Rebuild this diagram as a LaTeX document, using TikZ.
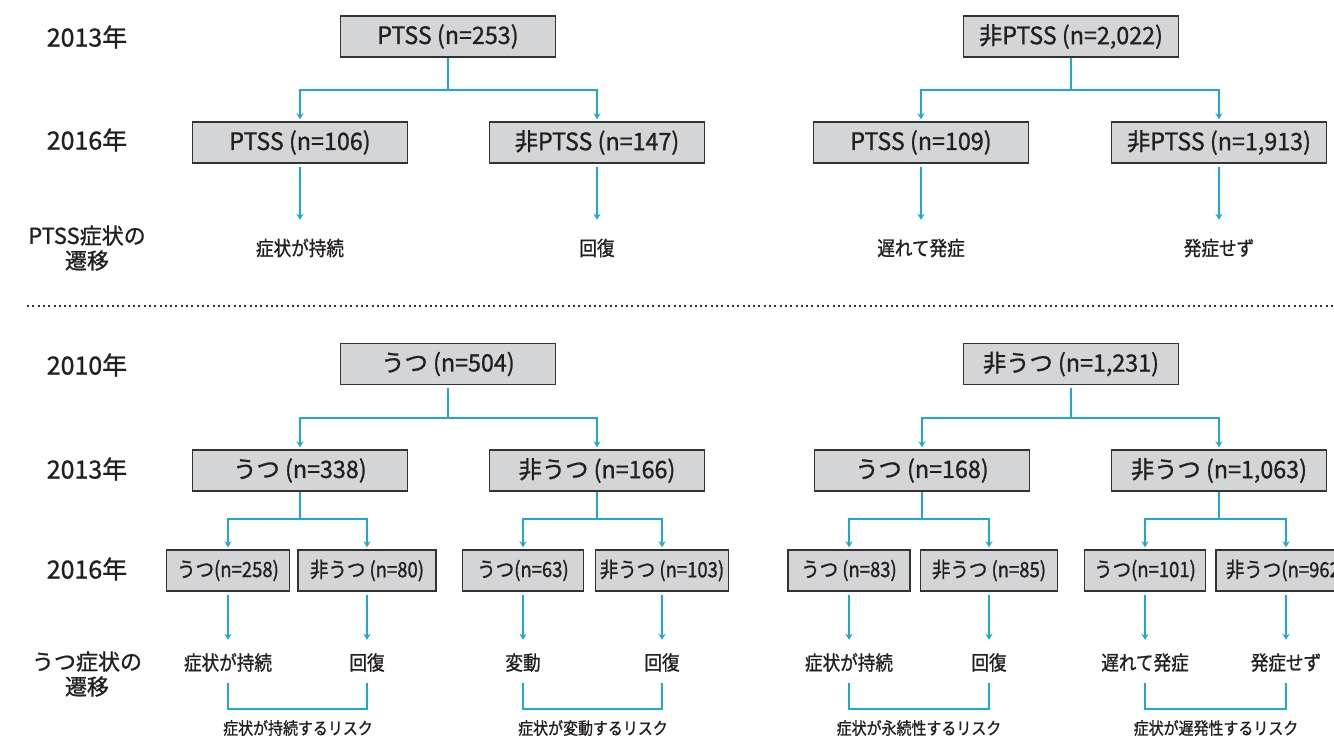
\documentclass[tikz,border=0pt]{standalone}
\usepackage{fontspec}
\setmainfont[FakeBold=1]{Noto Sans CJK JP}
\newfontfamily\condfont[FakeStretch=0.97,FakeBold=1]{Noto Sans CJK JP}
\newfontfamily\narrowfont[FakeStretch=0.88,FakeBold=1]{Noto Sans CJK JP}
\usetikzlibrary{arrows.meta}
\definecolor{boxfill}{HTML}{D4D5D7}
\definecolor{boxline}{HTML}{333333}
\definecolor{flow}{HTML}{1EA9D5}
\definecolor{ink}{HTML}{231F20}

\begin{document}
\begin{tikzpicture}[x=1pt,y=-1pt,
  groupbox/.style={draw=boxline,fill=boxfill,line width=1.4pt,inner sep=0pt,
    minimum height=41pt,minimum width=215pt,text=ink,
    font=\condfont\fontsize{24}{24}\selectfont},
  subbox/.style={groupbox,minimum width=#1,font=\narrowfont\fontsize{21}{21}\selectfont},
  yearlabel/.style={text=ink,font=\fontsize{25}{25}\selectfont},
  rowlabel/.style={text=ink,align=center,font=\fontsize{22}{25}\selectfont},
  fate/.style={text=ink,inner sep=0pt,minimum height=41pt,text height=15.2pt,
    text depth=0pt,font=\narrowfont\fontsize{20}{20}\selectfont},
  risk/.style={text=ink,inner sep=0pt,minimum height=38pt,text height=13pt,
    text depth=0pt,font=\narrowfont\fontsize{17}{17}\selectfont},
  flowline/.style={draw=flow,line width=2pt},
  flowarrow/.style={flowline,-{Stealth[length=6pt,width=7pt]},shorten >=2pt},
  sepline/.style={draw=boxline,line width=2pt,dash pattern=on 2pt off 3.3pt},
]
  \fill[white] (0,0) rectangle (1334,742);
  \useasboundingbox (0,0) rectangle (1334,742);

  \node[yearlabel] (ya) at (87,37) {2013年};
  \node[yearlabel] (yb) at (87,140) {2016年};
  \node[rowlabel] (ta) at (87,248) {PTSS症状の\\遷移};

  \node[groupbox] (p0) at (448,36.5) {PTSS (n=253)};
  \node[groupbox] (q0) at (1071,36.5) {非PTSS (n=2,022)};
  \node[groupbox] (p1) at (300,142.5) {PTSS (n=106)};
  \node[groupbox] (p2) at (597,142.5) {非PTSS (n=147)};
  \node[groupbox] (q1) at (921,142.5) {PTSS (n=109)};
  \node[groupbox] (q2) at (1219,142.5) {非PTSS (n=1,913)};

  \node[fate,minimum height=52pt] (pf1) at (300,248) {症状が持続};
  \node[fate,minimum height=52pt] (pf2) at (597,248) {回復};
  \node[fate,minimum height=52pt] (qf1) at (921,248) {遅れて発症};
  \node[fate,minimum height=52pt] (qf2) at (1219,248) {発症せず};

  \draw[flowarrow] (p0.south) -- ++(0,32) -| (p1.north);
  \draw[flowarrow] (p0.south) -- ++(0,32) -| (p2.north);
  \draw[flowarrow] (q0.south) -- ++(0,32) -| (q1.north);
  \draw[flowarrow] (q0.south) -- ++(0,32) -| (q2.north);
  \draw[flowarrow,shorten <=3pt] (p1) -- (pf1);
  \draw[flowarrow,shorten <=3pt] (p2) -- (pf2);
  \draw[flowarrow,shorten <=3pt] (q1) -- (qf1);
  \draw[flowarrow,shorten <=3pt] (q2) -- (qf2);

  \draw[sepline] (27,306) -- (1334,306);

  \node[yearlabel] (yc) at (87,365) {2010年};
  \node[yearlabel] (yd) at (87,469) {2013年};
  \node[yearlabel] (ye) at (87,569) {2016年};
  \node[rowlabel] (tb) at (87,674) {うつ症状の\\遷移};

  \node[groupbox] (u0) at (448,364) {うつ (n=504)};
  \node[groupbox] (v0) at (1071,364) {非うつ (n=1,231)};
  \node[groupbox] (u1) at (300,470.5) {うつ (n=338)};
  \node[groupbox] (u2) at (597,470.5) {非うつ (n=166)};
  \node[groupbox] (v1) at (922,470.5) {うつ (n=168)};
  \node[groupbox] (v2) at (1219,470.5) {非うつ (n=1,063)};

  \node[subbox=123pt] (u11) at (228,570.5) {うつ(n=258)};
  \node[subbox=138pt] (u12) at (367,570.5) {非うつ (n=80)};
  \node[subbox=121pt] (u21) at (523,570.5) {うつ(n=63)};
  \node[subbox=133pt] (u22) at (662,570.5) {非うつ (n=103)};
  \node[subbox=122pt] (v11) at (849,570.5) {うつ (n=83)};
  \node[subbox=137pt] (v12) at (989,570.5) {非うつ (n=85)};
  \node[subbox=121pt] (v21) at (1145,570.5) {うつ(n=101)};
  \node[subbox=140pt] (v22) at (1286,570.5) {非うつ(n=962)};

  \node[fate] (uf1) at (228,662.5) {症状が持続};
  \node[fate] (uf2) at (367,662.5) {回復};
  \node[fate] (uf3) at (523,662.5) {変動};
  \node[fate] (uf4) at (662,662.5) {回復};
  \node[fate] (vf1) at (849,662.5) {症状が持続};
  \node[fate] (vf2) at (989,662.5) {回復};
  \node[fate] (vf3) at (1145,662.5) {遅れて発症};
  \node[fate] (vf4) at (1286,662.5) {発症せず};

  \node[risk] (r1) at (298,728) {症状が持続するリスク};
  \node[risk] (r2) at (593,728) {症状が変動するリスク};
  \node[risk] (r3) at (919,728) {症状が永続性するリスク};
  \node[risk] (r4) at (1216,728) {症状が遅発性するリスク};

  \draw[flowarrow,shorten <=3pt] (u0.south) -- ++(0,33) -| (u1.north);
  \draw[flowarrow,shorten <=3pt] (u0.south) -- ++(0,33) -| (u2.north);
  \draw[flowarrow,shorten <=3pt] (v0.south) -- ++(0,33) -| (v1.north);
  \draw[flowarrow,shorten <=3pt] (v0.south) -- ++(0,33) -| (v2.north);

  \draw[flowarrow] (u1.south) -- ++(0,27) -| (u11.north);
  \draw[flowarrow] (u1.south) -- ++(0,27) -| (u12.north);
  \draw[flowarrow] (u2.south) -- ++(0,27) -| (u21.north);
  \draw[flowarrow] (u2.south) -- ++(0,27) -| (u22.north);
  \draw[flowarrow] (v1.south) -- ++(0,27) -| (v11.north);
  \draw[flowarrow] (v1.south) -- ++(0,27) -| (v12.north);
  \draw[flowarrow] (v2.south) -- ++(0,27) -| (v21.north);
  \draw[flowarrow] (v2.south) -- ++(0,27) -| (v22.north);

  \draw[flowarrow,shorten <=3pt] (u11) -- (uf1);
  \draw[flowarrow,shorten <=3pt] (u12) -- (uf2);
  \draw[flowarrow,shorten <=3pt] (u21) -- (uf3);
  \draw[flowarrow,shorten <=3pt] (u22) -- (uf4);
  \draw[flowarrow,shorten <=3pt] (v11) -- (vf1);
  \draw[flowarrow,shorten <=3pt] (v12) -- (vf2);
  \draw[flowarrow,shorten <=3pt] (v21) -- (vf3);
  \draw[flowarrow,shorten <=3pt] (v22) -- (vf4);

  \draw[flowline] (uf1) |- (r1.north) -| (uf2);
  \draw[flowline] (uf3) |- (r2.north) -| (uf4);
  \draw[flowline] (vf1) |- (r3.north) -| (vf2);
  \draw[flowline] (vf3) |- (r4.north) -| (vf4);
\end{tikzpicture}
\end{document}
